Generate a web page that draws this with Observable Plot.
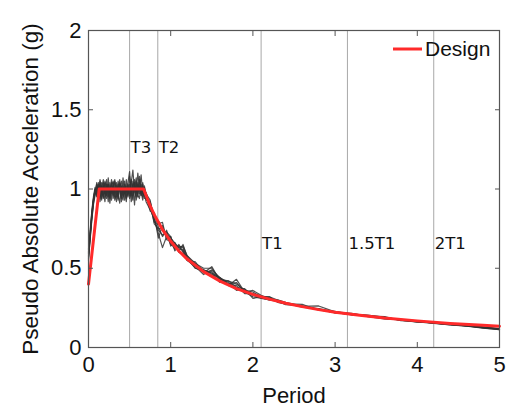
<!DOCTYPE html>
<html>
<head>
<meta charset="utf-8">
<script src="https://cdn.jsdelivr.net/npm/d3@7"></script>
<script src="https://cdn.jsdelivr.net/npm/@observablehq/plot@0.6"></script>
<style>
  html, body { margin: 0; padding: 0; background: #fff; }
  #chart svg { display: block; }
</style>
</head>
<body>
<div id="chart"></div>
<script>
// ---------- data ----------
const periods = [0,0.02,0.04,0.06,0.08,0.1,0.12,0.14,0.16,0.18,0.2,0.22,0.24,0.26,0.28,0.3,0.32,0.34,0.36,0.38,0.4,0.42,0.44,0.46,0.48,0.5,0.52,0.54,0.56,0.58,0.6,0.62,0.64,0.66,0.68,0.7,
  0.75,0.8,0.85,0.9,0.95,1.0,1.05,1.1,1.15,1.2,
  1.3,1.4,1.5,1.6,1.7,1.8,1.9,2.0,2.1,2.2,2.3,2.4,
  2.6,2.8,3.0,3.2,3.4,3.6,3.8,4.0,4.2,4.4,4.6,4.8,5.0];

const record1 = [0.57,0.70,0.82,0.92,0.98,1.03,0.96,1.05,0.94,1.02,0.97,1.06,0.95,1.01,0.93,1.04,0.98,0.92,1.05,0.99,0.94,1.07,0.97,1.02,0.95,1.08,1.00,0.93,1.04,0.98,1.10,1.01,0.96,1.03,0.97,0.94,
  0.92,0.82,0.80,0.74,0.72,0.69,0.66,0.63,0.64,0.58,
  0.53,0.50,0.50,0.43,0.42,0.40,0.36,0.35,0.32,0.32,0.30,0.285,
  0.26,0.24,0.22,0.21,0.205,0.19,0.175,0.165,0.155,0.145,0.14,0.13,0.12];
const record2 = [0.60,0.72,0.85,0.94,1.00,0.97,1.04,0.92,1.00,1.06,0.95,0.99,1.03,0.91,1.00,0.96,1.05,1.01,0.94,1.03,0.97,1.00,0.93,1.06,0.99,0.96,1.04,1.12,0.98,0.95,1.03,0.99,1.09,0.97,0.99,0.92,
  0.87,0.81,0.72,0.63,0.70,0.66,0.62,0.65,0.60,0.55,
  0.54,0.47,0.51,0.42,0.40,0.41,0.35,0.36,0.33,0.31,0.29,0.28,
  0.26,0.262,0.225,0.205,0.20,0.195,0.17,0.163,0.158,0.148,0.138,0.125,0.115];
const record3 = [0.55,0.68,0.80,0.90,0.96,1.01,0.93,0.99,1.04,0.94,1.01,0.96,1.03,0.98,1.06,0.94,1.00,1.04,0.97,0.91,1.02,0.98,1.05,0.96,1.01,0.94,0.99,1.03,0.90,1.05,0.97,1.06,1.00,0.95,1.01,0.95,
  0.90,0.79,0.78,0.79,0.68,0.67,0.66,0.61,0.65,0.57,
  0.50,0.49,0.46,0.44,0.39,0.43,0.35,0.32,0.31,0.30,0.30,0.28,
  0.255,0.245,0.225,0.215,0.195,0.18,0.178,0.168,0.152,0.142,0.136,0.128,0.118];
const record4 = [0.58,0.71,0.83,0.93,0.99,0.95,1.02,0.97,0.93,1.04,0.99,0.94,1.07,0.96,0.99,1.02,0.93,0.97,1.03,1.00,0.96,0.93,1.03,0.98,1.04,1.11,0.96,1.00,1.06,0.93,0.98,1.02,0.96,1.04,0.96,0.97,
  0.93,0.80,0.74,0.71,0.73,0.70,0.63,0.62,0.62,0.55,
  0.51,0.46,0.49,0.44,0.41,0.36,0.37,0.31,0.32,0.32,0.285,0.275,
  0.272,0.235,0.228,0.208,0.198,0.192,0.172,0.16,0.155,0.142,0.135,0.122,0.112];
const record5 = [0.62,0.74,0.86,0.95,1.01,0.99,0.94,1.06,0.98,0.95,1.05,1.01,0.92,1.04,0.97,1.00,1.06,0.95,0.99,1.04,1.01,0.95,0.99,0.92,1.03,1.00,0.95,1.05,1.01,1.00,0.95,1.08,0.98,0.93,1.02,0.96,
  0.86,0.85,0.76,0.70,0.74,0.64,0.66,0.60,0.59,0.58,
  0.52,0.49,0.47,0.41,0.42,0.38,0.37,0.33,0.315,0.30,0.29,0.28,
  0.26,0.24,0.222,0.212,0.202,0.182,0.176,0.163,0.157,0.147,0.137,0.126,0.117];
const record6 = [0.56,0.69,0.81,0.91,0.97,1.04,0.99,0.95,1.02,0.98,0.92,1.03,0.99,0.95,1.04,0.99,0.95,1.02,0.96,1.06,0.92,1.02,0.97,1.00,0.96,1.03,0.92,0.97,0.99,1.07,0.96,0.94,1.03,0.99,0.94,0.98,
  0.89,0.83,0.69,0.77,0.69,0.70,0.61,0.64,0.63,0.56,
  0.50,0.48,0.48,0.43,0.40,0.39,0.34,0.34,0.325,0.31,0.29,0.27,
  0.262,0.242,0.218,0.21,0.196,0.185,0.174,0.166,0.153,0.145,0.138,0.127,0.116];
const record7 = [0.59,0.71,0.84,0.93,1.00,0.96,1.03,1.00,0.96,1.00,1.04,0.97,1.00,0.94,1.02,1.05,0.97,1.00,0.93,1.01,1.05,0.96,1.01,0.94,1.00,0.97,1.06,0.96,1.02,0.97,1.04,0.97,1.01,0.97,1.00,0.93,
  0.91,0.78,0.75,0.75,0.71,0.65,0.64,0.63,0.61,0.55,
  0.53,0.48,0.47,0.44,0.40,0.37,0.36,0.335,0.315,0.31,0.29,0.276,
  0.258,0.238,0.22,0.207,0.199,0.183,0.172,0.162,0.154,0.146,0.137,0.124,0.113];

const designPeriod = [0,0.13,0.67,0.75,0.8,0.9,1.0,1.1,1.2,1.4,1.6,1.8,2.0,2.2,2.4,2.6,2.8,3.0,3.3,3.6,4.0,4.4,4.8,5.0];
const designSa     = [0.4,1.0,1.0,0.893,0.838,0.744,0.67,0.609,0.558,0.479,0.419,0.372,0.335,0.305,0.279,0.258,0.239,0.223,0.203,0.186,0.168,0.152,0.140,0.134];

const refPeriods = [0.5, 0.843, 2.1, 3.15, 4.2];
const refLabels  = ["T3", "T2", "T1", "1.5T1", "2T1"];
const refLabelY  = [1.26, 1.26, 0.656, 0.656, 0.656];

const xTicks = [0, 1, 2, 3, 4, 5];
const yTicks = [0, 0.5, 1, 1.5, 2];
const xLabel = "Period";
const yLabel = "Pseudo Absolute Acceleration (g)";
const legendLabel = "Design";

// ---------- tables ----------
const records = [record1, record2, record3, record4, record5, record6, record7];
const recordRows = records.flatMap((r, i) => periods.map((p, j) => ({period: p, sa: r[j], rec: i})));
const designRows = designPeriod.map((p, i) => ({period: p, sa: designSa[i]}));
const refRows = refPeriods.map((p, i) => ({period: p, label: refLabels[i], y: refLabelY[i]}));

const FONT = "'Liberation Sans', Arial, sans-serif";
const tickFont = {fontSize: 22, fontFamily: FONT, fill: "#111"};

const svg = Plot.plot({
  width: 512,
  height: 408,
  marginTop: 30,
  marginRight: 13,
  marginBottom: 61,
  marginLeft: 88,
  style: {fontFamily: FONT, background: "#fff", overflow: "visible"},
  x: {domain: [0, 5]},
  y: {domain: [0, 2]},
  marks: [
    Plot.ruleX(refRows, {x: "period", stroke: "#a8a8a8", strokeWidth: 1}),
    Plot.line(recordRows, {x: "period", y: "sa", z: "rec", stroke: "#333", strokeWidth: 1.2, strokeOpacity: 0.85}),
    Plot.line(designRows, {x: "period", y: "sa", stroke: "#ff2a2a", strokeWidth: 3}),
    Plot.text(refRows, {x: "period", y: "y", text: "label", textAnchor: "start", dx: 1, fontSize: 16.5, fontFamily: "'DejaVu Sans', sans-serif", fill: "#111"}),
    Plot.frame({stroke: "#555", strokeWidth: 1.2}),
    Plot.axisX({ticks: xTicks, tickSize: -5, tickPadding: 14, label: null, stroke: "#555", ...tickFont, tickFormat: d => String(d)}),
    Plot.axisX({anchor: "top", ticks: xTicks, tickSize: -5, label: null, stroke: "#555", tickFormat: () => ""}),
    Plot.axisY({ticks: yTicks, tickSize: -5, tickPadding: 12, label: null, stroke: "#555", ...tickFont, tickFormat: d => String(d)}),
    Plot.axisY({anchor: "right", ticks: yTicks, tickSize: -5, label: null, stroke: "#555", tickFormat: () => ""}),
    Plot.text([xLabel], {frameAnchor: "bottom", dy: 48, text: d => d, textAnchor: "middle", fontSize: 22, fontFamily: FONT, fill: "#111", lineAnchor: "middle"}),
    Plot.text([yLabel], {frameAnchor: "left", dx: -58, rotate: -90, text: d => d, textAnchor: "middle", fontSize: 22.5, fontFamily: FONT, fill: "#111", lineAnchor: "middle"})
  ]
});

// legend (inside plot, top-right)
const lg = d3.select(svg).append("g").attr("class", "legend");
lg.append("line").attr("x1", 393).attr("x2", 422).attr("y1", 49).attr("y2", 49)
  .attr("stroke", "#ff2a2a").attr("stroke-width", 3);
lg.append("text").attr("x", 425).attr("y", 49).attr("dy", "0.35em")
  .attr("text-anchor", "start")
  .style("font-family", FONT).style("font-size", "21px").attr("fill", "#111").text(legendLabel);

document.getElementById("chart").appendChild(svg);
</script>
</body>
</html>
